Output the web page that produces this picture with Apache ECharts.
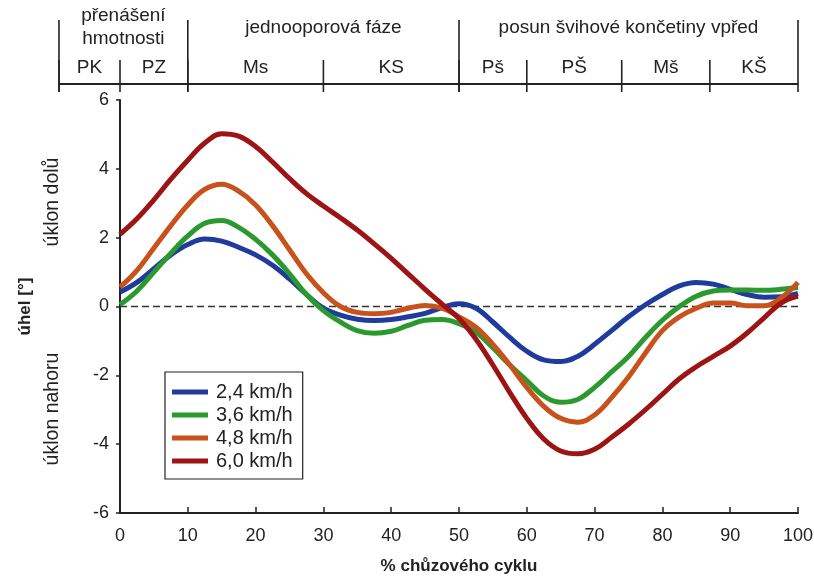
<!DOCTYPE html>
<html>
<head>
<meta charset="utf-8">
<script src="https://cdn.jsdelivr.net/npm/echarts@6/dist/echarts.min.js"></script>
<style>
html,body{margin:0;padding:0;background:#fff}
#main{width:814px;height:578px}
</style>
</head>
<body>
<div id="main"></div>
<script>
// % chuzoveho cyklu
var xs = [0, 2.5, 5, 7.5, 10, 12.5, 15, 17.5, 20, 22.5, 25, 27.5, 30, 32.5, 35, 37.5, 40, 42.5, 45, 47.5,
          50, 52.5, 55, 57.5, 60, 62.5, 65, 67.5, 70, 72.5, 75, 77.5, 80, 82.5, 85, 87.5, 90, 92.5, 95, 97.5, 100];
// uhel [°]
var v24 = [0.42, 0.7, 1.1, 1.5, 1.8, 1.96, 1.9, 1.72, 1.5, 1.2, 0.8, 0.35, -0.05, -0.25, -0.37, -0.41, -0.38, -0.3, -0.2, -0.03,
           0.08, -0.05, -0.45, -0.9, -1.3, -1.55, -1.6, -1.45, -1.1, -0.7, -0.3, 0.05, 0.35, 0.6, 0.7, 0.65, 0.5, 0.35, 0.27, 0.28, 0.38];
var v36 = [0.05, 0.45, 1.0, 1.55, 2.05, 2.42, 2.5, 2.3, 1.95, 1.5, 0.95, 0.35, -0.12, -0.45, -0.7, -0.78, -0.72, -0.55, -0.4, -0.38,
           -0.5, -0.75, -1.2, -1.7, -2.15, -2.6, -2.78, -2.7, -2.35, -1.9, -1.45, -0.9, -0.4, 0.0, 0.3, 0.45, 0.48, 0.48, 0.47, 0.5, 0.55];
var v48 = [0.56, 1.05, 1.7, 2.35, 2.95, 3.4, 3.55, 3.35, 2.95, 2.35, 1.65, 0.95, 0.4, 0.0, -0.17, -0.21, -0.17, -0.05, 0.03, -0.05,
           -0.3, -0.6, -1.1, -1.7, -2.35, -2.9, -3.25, -3.36, -3.15, -2.65, -2.05, -1.35, -0.7, -0.3, -0.05, 0.1, 0.1, 0.02, 0.02, 0.25, 0.7];
var v60 = [2.1, 2.55, 3.1, 3.7, 4.25, 4.75, 5.02, 4.95, 4.65, 4.2, 3.72, 3.28, 2.92, 2.58, 2.22, 1.82, 1.4, 0.95, 0.5, 0.07,
           -0.35, -0.95, -1.7, -2.5, -3.25, -3.85, -4.2, -4.28, -4.15, -3.8, -3.42, -3.0, -2.55, -2.1, -1.75, -1.45, -1.15, -0.77, -0.33, 0.1, 0.3];

var names = ['2,4 km/h', '3,6 km/h', '4,8 km/h', '6,0 km/h'];
var colors = ['#1f3c9c', '#2b9a2e', '#c9511c', '#9c1414'];

// zahlavi - faze kroku
var groupLabels = ['přenášení\nhmotnosti', 'jednooporová fáze', 'posun švihové končetiny vpřed'];
var groupBounds = [-9, 10, 50, 100];
var subLabels = ['PK', 'PZ', 'Ms', 'KS', 'Pš', 'PŠ', 'Mš', 'KŠ'];
var subBounds = [-9, 0, 10, 30, 50, 60, 74, 87, 100];

var FONT = 'Liberation Sans Narrow, Liberation Sans, Arial, sans-serif';

function pairs(ys) {
	return xs.map(function(x, i) { return [x, ys[i]]; });
}
function spans(bounds) {
	var out = [];
	for (var i = 0; i < bounds.length - 1; i++) {
		out.push([bounds[i], bounds[i + 1], i]);
	}
	return out;
}

var chart = echarts.init(document.getElementById('main'));

function lineSeries(name, ys, color) {
	return {
		name: name,
		type: 'line',
		data: pairs(ys),
		smooth: 0.4,
		showSymbol: false,
		lineStyle: {width: 5, color: color},
		itemStyle: {color: color},
		z: 3
	};
}

var series = [
	{
		name: 'nula',
		type: 'line',
		data: [[0, 0], [100, 0]],
		showSymbol: false,
		silent: true,
		lineStyle: {width: 1.6, color: '#333', type: [7, 4]},
		z: 2
	},
	lineSeries(names[0], v24, colors[0]),
	lineSeries(names[1], v36, colors[1]),
	lineSeries(names[2], v48, colors[2]),
	lineSeries(names[3], v60, colors[3]),
	{
		// hlavni faze
		type: 'custom',
		xAxisIndex: 1,
		yAxisIndex: 1,
		silent: true,
		clip: false,
		data: spans(groupBounds),
		renderItem: function(params, api) {
			var x0 = api.value(0), x1 = api.value(1), i = api.value(2);
			var top = api.coord([x0, 0.875]), bot = api.coord([x0, -0.025]);
			var mid = api.coord([(x0 + x1) / 2, 0.78]);
			var kids = [
				{type: 'line', shape: {x1: top[0], y1: top[1], x2: bot[0], y2: bot[1]}, style: {stroke: '#222', lineWidth: 1.6}},
				{type: 'text', style: {text: groupLabels[i], x: mid[0], y: mid[1], align: 'center', verticalAlign: 'middle',
					fontSize: 19, lineHeight: 23, fontFamily: FONT, fill: '#222'}}
			];
			if (i == groupLabels.length - 1) {
				var top2 = api.coord([x1, 0.875]), bot2 = api.coord([x1, -0.025]);
				kids.push({type: 'line', shape: {x1: top2[0], y1: top2[1], x2: bot2[0], y2: bot2[1]}, style: {stroke: '#222', lineWidth: 1.6}});
			}
			return {type: 'group', children: kids};
		}
	},
	{
		// podfaze
		type: 'custom',
		xAxisIndex: 1,
		yAxisIndex: 1,
		silent: true,
		clip: false,
		data: spans(subBounds),
		renderItem: function(params, api) {
			var x0 = api.value(0), x1 = api.value(1), i = api.value(2);
			var top = api.coord([x0, 0.375]), bot = api.coord([x0, -0.025]);
			var a = api.coord([x0, 0.075]), b = api.coord([x1, 0.075]);
			var mid = api.coord([(x0 + x1) / 2, 0.275]);
			return {type: 'group', children: [
				{type: 'line', shape: {x1: top[0], y1: top[1], x2: bot[0], y2: bot[1]}, style: {stroke: '#222', lineWidth: 1.6}},
				{type: 'line', shape: {x1: a[0], y1: a[1], x2: b[0], y2: b[1]}, style: {stroke: '#222', lineWidth: 2}},
				{type: 'text', style: {text: subLabels[i], x: mid[0], y: mid[1], align: 'center', verticalAlign: 'middle',
					fontSize: 19, fontFamily: FONT, fill: '#222'}}
			]};
		}
	}
];

var option = {
	backgroundColor: '#fff',
	animation: false,
	textStyle: {fontFamily: FONT, color: '#222'},
	legend: {
		data: names,
		orient: 'vertical',
		left: 165,
		top: 372,
		icon: 'rect',
		itemWidth: 36,
		itemHeight: 5,
		itemGap: 3,
		padding: [10, 10, 8, 7],
		borderColor: '#222',
		borderWidth: 1.2,
		borderRadius: 0,
		textStyle: {fontSize: 20, lineHeight: 18.5, color: '#222', fontFamily: FONT, padding: [0, 0, 0, 3]}
	},
	grid: [
		{left: 120, right: 16, top: 100, bottom: 65, outerBoundsMode: 'none', containLabel: false},
		{left: 120, right: 16, top: 10, height: 80, outerBoundsMode: 'none', containLabel: false}
	],
	xAxis: [
		{
			type: 'value', min: 0, max: 100, interval: 10,
			name: '% chůzového cyklu', nameLocation: 'middle', nameGap: 45,
			nameTextStyle: {fontSize: 17, fontWeight: 'bold', color: '#222'},
			axisLine: {onZero: false, lineStyle: {color: '#222', width: 2}},
			axisTick: {inside: true, length: 6, lineStyle: {color: '#222', width: 1.5}},
			axisLabel: {fontSize: 18, color: '#222', margin: 14},
			splitLine: {show: false}
		},
		{gridIndex: 1, type: 'value', min: 0, max: 100, show: false}
	],
	yAxis: [
		{
			type: 'value', min: -6, max: 6, interval: 2,
			name: 'úhel [°]', nameLocation: 'middle', nameGap: 86, nameRotate: 90,
			nameTextStyle: {fontSize: 17, fontWeight: 'bold', color: '#222'},
			axisLine: {show: true, onZero: false, lineStyle: {color: '#222', width: 2}},
			axisTick: {show: true, length: 4, lineStyle: {color: '#222', width: 1.5}},
			axisLabel: {fontSize: 18, color: '#222', margin: 11},
			splitLine: {show: false}
		},
		{gridIndex: 1, type: 'value', min: 0, max: 1, show: false}
	],
	graphic: [
		{type: 'text', x: 53, y: 202, rotation: Math.PI / 2,
			style: {text: 'úklon dolů', align: 'center', verticalAlign: 'middle', fontSize: 19.5, fontFamily: FONT, fill: '#222'}},
		{type: 'text', x: 53, y: 409, rotation: Math.PI / 2,
			style: {text: 'úklon nahoru', align: 'center', verticalAlign: 'middle', fontSize: 19.5, fontFamily: FONT, fill: '#222'}}
	],
	series: series
};
chart.setOption(option);
</script>
</body>
</html>
